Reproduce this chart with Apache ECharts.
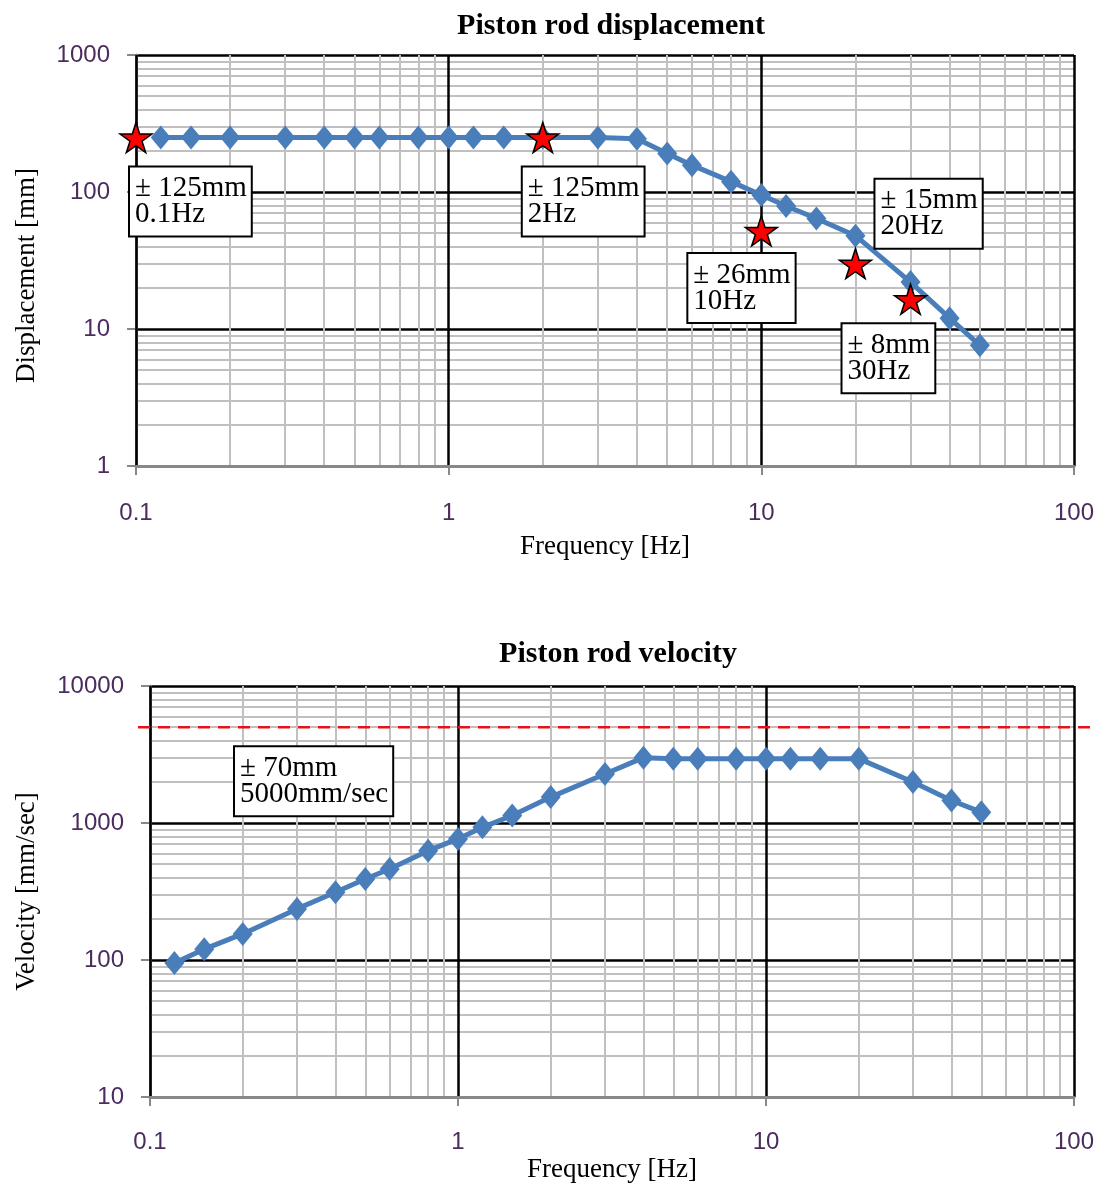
<!DOCTYPE html>
<html>
<head>
<meta charset="utf-8">
<title>Piston rod displacement / velocity</title>
<script src="https://cdn.jsdelivr.net/npm/echarts@6/dist/echarts.min.js"></script>
<style>
	html, body { margin: 0; padding: 0; background: #fff; }
	#main { width: 1108px; height: 1189px; }
</style>
</head>
<body>
<div id="main"></div>
<script>
	// ****** data
	var freq = [0.12, 0.15, 0.2, 0.3, 0.4, 0.5, 0.6, 0.8, 1, 1.2, 1.5, 2, 3, 4, 5, 6, 8, 10, 12, 15, 20, 30, 40, 50];
	var dispMm = [250, 250, 250, 250, 250, 250, 250, 250, 250, 250, 250, 250, 250, 245, 191, 157, 119, 95, 79, 64, 48, 22, 12, 7.6];
	var velMm = [95, 120, 155, 236, 312, 390, 462, 628, 765, 930, 1135, 1545, 2280, 3000, 2950, 2950, 2950, 2950, 2950, 2950, 2950, 1990, 1460, 1200];

	// red stars on the displacement chart
	var starFreq = [0.1, 2, 10, 20, 30];
	var starDisp = [250, 250, 52, 30, 16.5];
	var starText = ['± 125mm\n0.1Hz', '± 125mm\n2Hz', '± 26mm\n10Hz', '± 15mm\n20Hz', '± 8mm\n30Hz'];

	var velLimit = 5000;
	var velText = '± 70mm\n5000mm/sec';

	var xTicks = ['0.1', '1', '10', '100'];
	var dispTicks = ['1', '10', '100', '1000'];
	var velTicks = ['10', '100', '1000', '10000'];

	// ****** styles
	var serif = "'Liberation Serif', 'Times New Roman', serif";
	var sans = "'Liberation Sans', Arial, sans-serif";
	var tickColor = '#4b2c5e';
	var blue = '#4a7ebb';
	// box top-left relative to its star centre
	var boxOffset = [[-6, 30], [-20, 30], [-73, 23], [20, -84], [-68, 25]];
	var starPath = 'path://M50,0 L61,35 L98,35 L68,57 L79,91 L50,70 L21,91 L32,57 L2,35 L39,35 Z';

	function boxText(txt, x, y) {
		return {
			type: 'text', z: 10, x: x, y: y, silent: true,
			style: {
				text: txt, fontFamily: serif, fontSize: 29, lineHeight: 26, fill: '#000',
				backgroundColor: '#fff', borderColor: '#000', borderWidth: 2, padding: [8, 4, 8, 5]
			}
		};
	}

	function minorLines(min, max) {
		var out = [];
		for (var d = min; d < max; d *= 10) {
			for (var k = 2; k <= 9; k++) out.push(Math.round(d * k * 1e6) / 1e6);
		}
		return out;
	}

	function logLabel(labels, min) {
		return function (v) { return labels[Math.round(Math.log10(v / min))]; };
	}

	function xAxisCfg(grid, nameGap, margin) {
		return {
			type: 'log', logBase: 10, gridIndex: grid, min: 0.1, max: 100, z: 1.5,
			name: 'Frequency [Hz]', nameLocation: 'middle', nameGap: nameGap,
			nameTextStyle: { fontFamily: serif, fontSize: 27, color: '#000' },
			axisLine: { show: true, onZero: false, lineStyle: { color: '#888', width: 3 } },
			axisTick: { show: true, length: 9, lineStyle: { color: '#888', width: 2 } },
			axisLabel: { margin: margin, fontFamily: sans, fontSize: 24, color: tickColor, formatter: logLabel(xTicks, 0.1) },
			splitLine: { show: true, lineStyle: { color: '#000', width: 2.5 } }
		};
	}

	function yAxisCfg(grid, name, min, max, labels, nameGap, pad) {
		return {
			type: 'log', logBase: 10, gridIndex: grid, min: min, max: max, z: 0,
			name: name, nameLocation: 'middle', nameGap: nameGap,
			nameTextStyle: { fontFamily: serif, fontSize: 27, color: '#000', padding: pad },
			axisLine: { show: true, onZero: false, lineStyle: { color: '#888', width: 3 } },
			axisTick: { show: true, length: 9, lineStyle: { color: '#888', width: 2 } },
			axisLabel: { margin: 26, fontFamily: sans, fontSize: 24, color: tickColor, formatter: logLabel(labels, min) },
			splitLine: { show: true, lineStyle: { color: '#000', width: 2.5 } }
		};
	}

	// gray lines at 2..9 of every decade, kept under the data
	function minorGrid(idx, yMin, yMax) {
		var lines = [];
		minorLines(0.1, 100).forEach(function (v) { lines.push({ xAxis: v }); });
		minorLines(yMin, yMax).forEach(function (v) { lines.push({ yAxis: v }); });
		return {
			type: 'scatter', xAxisIndex: idx, yAxisIndex: idx, data: [], z: 1, silent: true,
			markLine: {
				z: 1, silent: true, symbol: 'none', label: { show: false },
				lineStyle: { color: '#c0c0c0', width: 2, type: 'solid' },
				data: lines
			}
		};
	}

	var dom = document.getElementById('main');
	var chart = echarts.init(dom);

	var option = {
		animation: false,
		backgroundColor: '#fff',
		title: [
			{ text: 'Piston rod displacement', left: 606, top: 6, textAlign: 'center',
				textStyle: { fontFamily: serif, fontSize: 30, fontWeight: 'bold', color: '#000' } },
			{ text: 'Piston rod velocity', left: 613, top: 634, textAlign: 'center',
				textStyle: { fontFamily: serif, fontSize: 30, fontWeight: 'bold', color: '#000' } }
		],
		grid: [
			{ left: 136, top: 55, width: 938, height: 411 },
			{ left: 150, top: 686, width: 924, height: 411 }
		],
		xAxis: [xAxisCfg(0, 67, 35), xAxisCfg(1, 59, 33)],
		yAxis: [
			yAxisCfg(0, 'Displacement [mm]', 1, 1000, dispTicks, 96, [0, 30, 0, 0]),
			yAxisCfg(1, 'Velocity [mm/sec]', 10, 10000, velTicks, 110, 0)
		],
		series: [
			minorGrid(0, 1, 1000),
			minorGrid(1, 10, 10000),
			{
				name: 'Displacement', type: 'line', xAxisIndex: 0, yAxisIndex: 0, z: 3,
				data: freq.map(function (f, k) { return [f, dispMm[k]]; }),
				symbol: 'diamond', symbolSize: [20, 24],
				lineStyle: { color: blue, width: 5 },
				itemStyle: { color: blue }
			},
			{
				name: 'Stars', type: 'scatter', xAxisIndex: 0, yAxisIndex: 0, z: 4, clip: false,
				data: starFreq.map(function (f, k) { return [f, starDisp[k]]; }),
				symbol: starPath, symbolSize: [32, 30],
				itemStyle: { color: '#ff0000', borderColor: '#000', borderWidth: 1.5, opacity: 1 }
			},
			{
				name: 'Velocity', type: 'line', xAxisIndex: 1, yAxisIndex: 1, z: 3,
				data: freq.map(function (f, k) { return [f, velMm[k]]; }),
				symbol: 'diamond', symbolSize: [20, 24],
				lineStyle: { color: blue, width: 5 },
				itemStyle: { color: blue }
			}
		]
	};

	chart.setOption(option);

	// text boxes follow their stars; red dashed limit runs a bit past the plot
	var graphics = [];
	for (var i = 0; i < starFreq.length; i++) {
		var p = chart.convertToPixel({ xAxisIndex: 0, yAxisIndex: 0 }, [starFreq[i], starDisp[i]]);
		graphics.push(boxText(starText[i], p[0] + boxOffset[i][0], p[1] + boxOffset[i][1]));
	}
	var yLim = chart.convertToPixel({ yAxisIndex: 1 }, velLimit);
	graphics.push({
		type: 'line', z: 10, silent: true,
		shape: { x1: 138, y1: yLim, x2: 1098, y2: yLim },
		style: { stroke: '#e8101a', lineWidth: 2.5, lineDash: [12, 8] }
	});
	graphics.push(boxText(velText, 235, yLim + 20));

	chart.setOption({ graphic: graphics });
</script>
</body>
</html>
